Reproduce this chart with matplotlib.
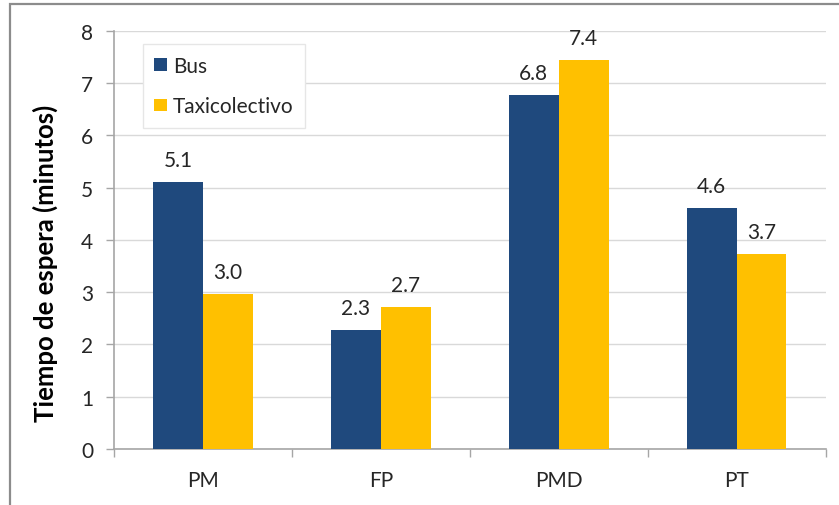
import matplotlib
matplotlib.use("Agg")
import matplotlib.pyplot as plt
import numpy as np
from matplotlib.patches import Patch, Rectangle

categories = ["PM", "FP", "PMD", "PT"]
bus = [5.1, 2.27, 6.77, 4.6]
taxi = [2.96, 2.72, 7.43, 3.73]
bus_labels = ["5.1", "2.3", "6.8", "4.6"]
taxi_labels = ["3.0", "2.7", "7.4", "3.7"]
series_names = ["Bus", "Taxicolectivo"]
y_ticks = [0, 1, 2, 3, 4, 5, 6, 7, 8]
y_title = "Tiempo de espera (minutos)"

BUS_COLOR = "#1F497D"
TAXI_COLOR = "#FFC000"
AXIS_GRAY = "#A6A6A6"
GRID_GRAY = "#D9D9D9"
TEXT = "#262626"
FS = 15

plt.rcParams["font.family"] = ["Lato", "DejaVu Sans"]

fig = plt.figure(figsize=(8.39, 5.06), dpi=100)
ax = fig.add_axes([0.1359, 0.1107, 0.8481, 0.8267])

# outer chart frame (top and left edges visible)
fig.patches.append(Rectangle((10 / 839, -0.05), 1.2, 1 - 5 / 506 + 0.05,
                             transform=fig.transFigure, fill=False,
                             edgecolor="#8C8C8C", linewidth=1.6, zorder=0))

x = np.arange(len(categories))
w = 0.28
b1 = ax.bar(x - w / 2, bus, w, color=BUS_COLOR, zorder=3)
b2 = ax.bar(x + w / 2, taxi, w, color=TAXI_COLOR, zorder=3)

for rects, labels in ((b1, bus_labels), (b2, taxi_labels)):
    for r, lab in zip(rects, labels):
        ax.annotate(lab, (r.get_x() + r.get_width() / 2, r.get_height()),
                    xytext=(0, 16), textcoords="offset points",
                    ha="center", va="center", fontsize=FS, color=TEXT)

ax.set_xlim(-0.5, len(categories) - 0.5)
ax.set_ylim(0, 8)
ax.set_yticks(y_ticks)
ax.set_xticks(x)
ax.set_xticklabels(categories)
ax.set_xticks(np.arange(len(categories) + 1) - 0.5, minor=True)
ax.tick_params(axis="x", which="major", length=0, pad=15, labelsize=FS,
               labelcolor=TEXT)
ax.tick_params(axis="x", which="minor", length=6, width=1, color=AXIS_GRAY,
               direction="out")
ax.tick_params(axis="y", length=6, width=1, color=AXIS_GRAY, pad=9,
               labelsize=FS, labelcolor=TEXT)

ax.yaxis.grid(True, color=GRID_GRAY, linewidth=1, zorder=0)
ax.set_axisbelow(True)
for s in ("top", "right"):
    ax.spines[s].set_visible(False)
for s in ("left", "bottom"):
    ax.spines[s].set_color(AXIS_GRAY)
    ax.spines[s].set_linewidth(1.2)

ax.set_ylabel(y_title, fontsize=18.5, fontweight="bold", color="black",
              va="center")
ax.yaxis.set_label_coords(-0.097, 0.447)

handles = [Patch(facecolor=BUS_COLOR), Patch(facecolor=TAXI_COLOR)]
leg = ax.legend(handles, series_names, loc="upper left",
                bbox_to_anchor=(0.0407, 0.968), borderaxespad=0,
                fontsize=FS, handlelength=0.58, handleheight=0.58,
                handletextpad=0.3, labelspacing=1.0, borderpad=0.55,
                fancybox=False, framealpha=1, edgecolor="#E6E6E6")
for t in leg.get_texts():
    t.set_color(TEXT)
leg.get_frame().set_linewidth(1)

fig.savefig("out.png", dpi=100)
